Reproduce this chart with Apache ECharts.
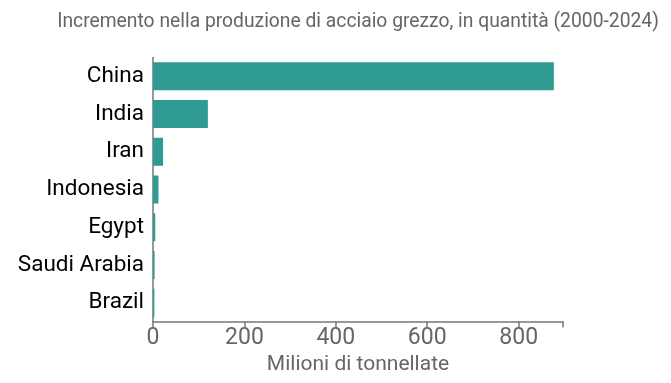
<!DOCTYPE html>
<html>
<head>
<meta charset="utf-8">
<script src="https://cdn.jsdelivr.net/npm/echarts@6/dist/echarts.min.js"></script>
<style>
html,body{margin:0;padding:0;background:#fff;}
#chart{width:671px;height:383px;}
</style>
</head>
<body>
<div id="chart"></div>
<script>
// Data (top to bottom)
var categories = ["China", "India", "Iran", "Indonesia", "Egypt", "Saudi Arabia", "Brazil"];
var values = [877, 120, 22, 12, 5, 3.5, 3];
var xTicks = [0, 200, 400, 600, 800];
var xMax = 897;
var titleText = "Incremento nella produzione di acciaio grezzo, in quantità (2000-2024)";
var xAxisName = "Milioni di tonnellate";

var chart = echarts.init(document.getElementById('chart'), null, {renderer: 'canvas'});
var font = 'Roboto';
var axisColor = '#777';
var option = {
  animation: false,
  textStyle: {fontFamily: font},
  title: {
    text: titleText,
    left: 353,
    top: 8,
    textAlign: 'center',
    textStyle: {fontFamily: font, fontSize: 19.3, fontWeight: 'normal', color: '#666'}
  },
  grid: {left: 153, right: 108, top: 57.5, bottom: 61.5, containLabel: false},
  xAxis: [{
    type: 'value',
    min: 0,
    max: xMax,
    interval: 200,
    position: 'bottom',
    splitLine: {show: false},
    axisLine: {show: true, lineStyle: {color: axisColor, width: 1.5}},
    axisTick: {show: true, length: 6, lineStyle: {color: axisColor, width: 1.5}},
    axisLabel: {
      color: '#666', fontSize: 23, fontFamily: font, margin: 5,
      showMaxLabel: false,
      formatter: function (v) { return xTicks.indexOf(v) >= 0 ? String(v) : ''; }
    },
    name: xAxisName,
    nameLocation: 'middle',
    nameGap: 32,
    nameTextStyle: {color: '#666', fontSize: 21, fontFamily: font}
  }, {
    // decorative: outer end ticks of the domain line
    type: 'value',
    min: 0,
    max: xMax,
    interval: xMax,
    position: 'bottom',
    splitLine: {show: false},
    axisLine: {show: false},
    axisTick: {show: true, length: 6, lineStyle: {color: axisColor, width: 1.5}},
    axisLabel: {show: false}
  }],
  yAxis: {
    type: 'category',
    data: categories,
    inverse: true,
    axisLine: {show: true, lineStyle: {color: axisColor, width: 1.5}},
    axisTick: {show: false},
    axisLabel: {color: '#000', fontSize: 22.5, fontFamily: font, margin: 9}
  },
  series: [{
    type: 'bar',
    data: values,
    xAxisIndex: 0,
    barWidth: 28,
    itemStyle: {color: '#2f9b93'},
    silent: true
  }]
};
chart.setOption(option);
</script>
</body>
</html>
